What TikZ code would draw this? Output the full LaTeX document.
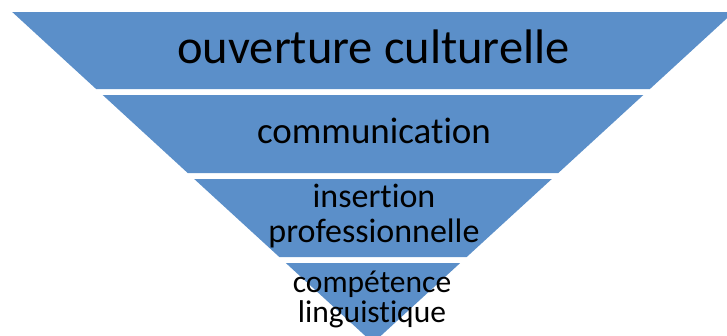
\documentclass[tikz,border=0pt]{standalone}
\usepackage{fontspec}
\setmainfont{Carlito}[Ligatures=NoCommon]
\definecolor{bandblue}{RGB}{91,143,201}
\tikzset{
  band/.style={fill=bandblue},
  lbl/.style={anchor=base, inner sep=0pt, text=black},
}
\begin{document}
\begin{tikzpicture}[x=1pt,y=-1pt]
\useasboundingbox (0,0) rectangle (727,335);
\clip (0,0) rectangle (727,335);
% bands of the inverted triangle (apex at (373,343))
\fill[band] (12.2,12) -- (733.8,12) -- (649.9,89) -- (96.1,89) -- cycle;
\fill[band] (102.7,95) -- (643.3,95) -- (558.3,173) -- (187.7,173) -- cycle;
\fill[band] (194.2,179) -- (551.8,179) -- (466.7,257) -- (279.3,257) -- cycle;
\fill[band] (285.8,263) -- (460.2,263) -- (373,343) -- cycle;
% labels
\node[lbl, font=\fontsize{48.5}{50}\selectfont] (t1) at (373.5,63) {ouverture culturelle};
\node[lbl, font=\fontsize{37}{40}\selectfont] (t2) at (374,143) {communication};
\node[lbl, font=\fontsize{34}{36}\selectfont] (t3a) at (374,207) {insertion};
\node[lbl, font=\fontsize{34}{36}\selectfont] (t3b) at (374,242) {professionnelle};
\node[lbl, font=\fontsize{31.5}{34}\selectfont] (t4a) at (372,292) {compétence};
\node[lbl, font=\fontsize{31.5}{34}\selectfont] (t4b) at (372,322) {linguistique};
\end{tikzpicture}
\end{document}
